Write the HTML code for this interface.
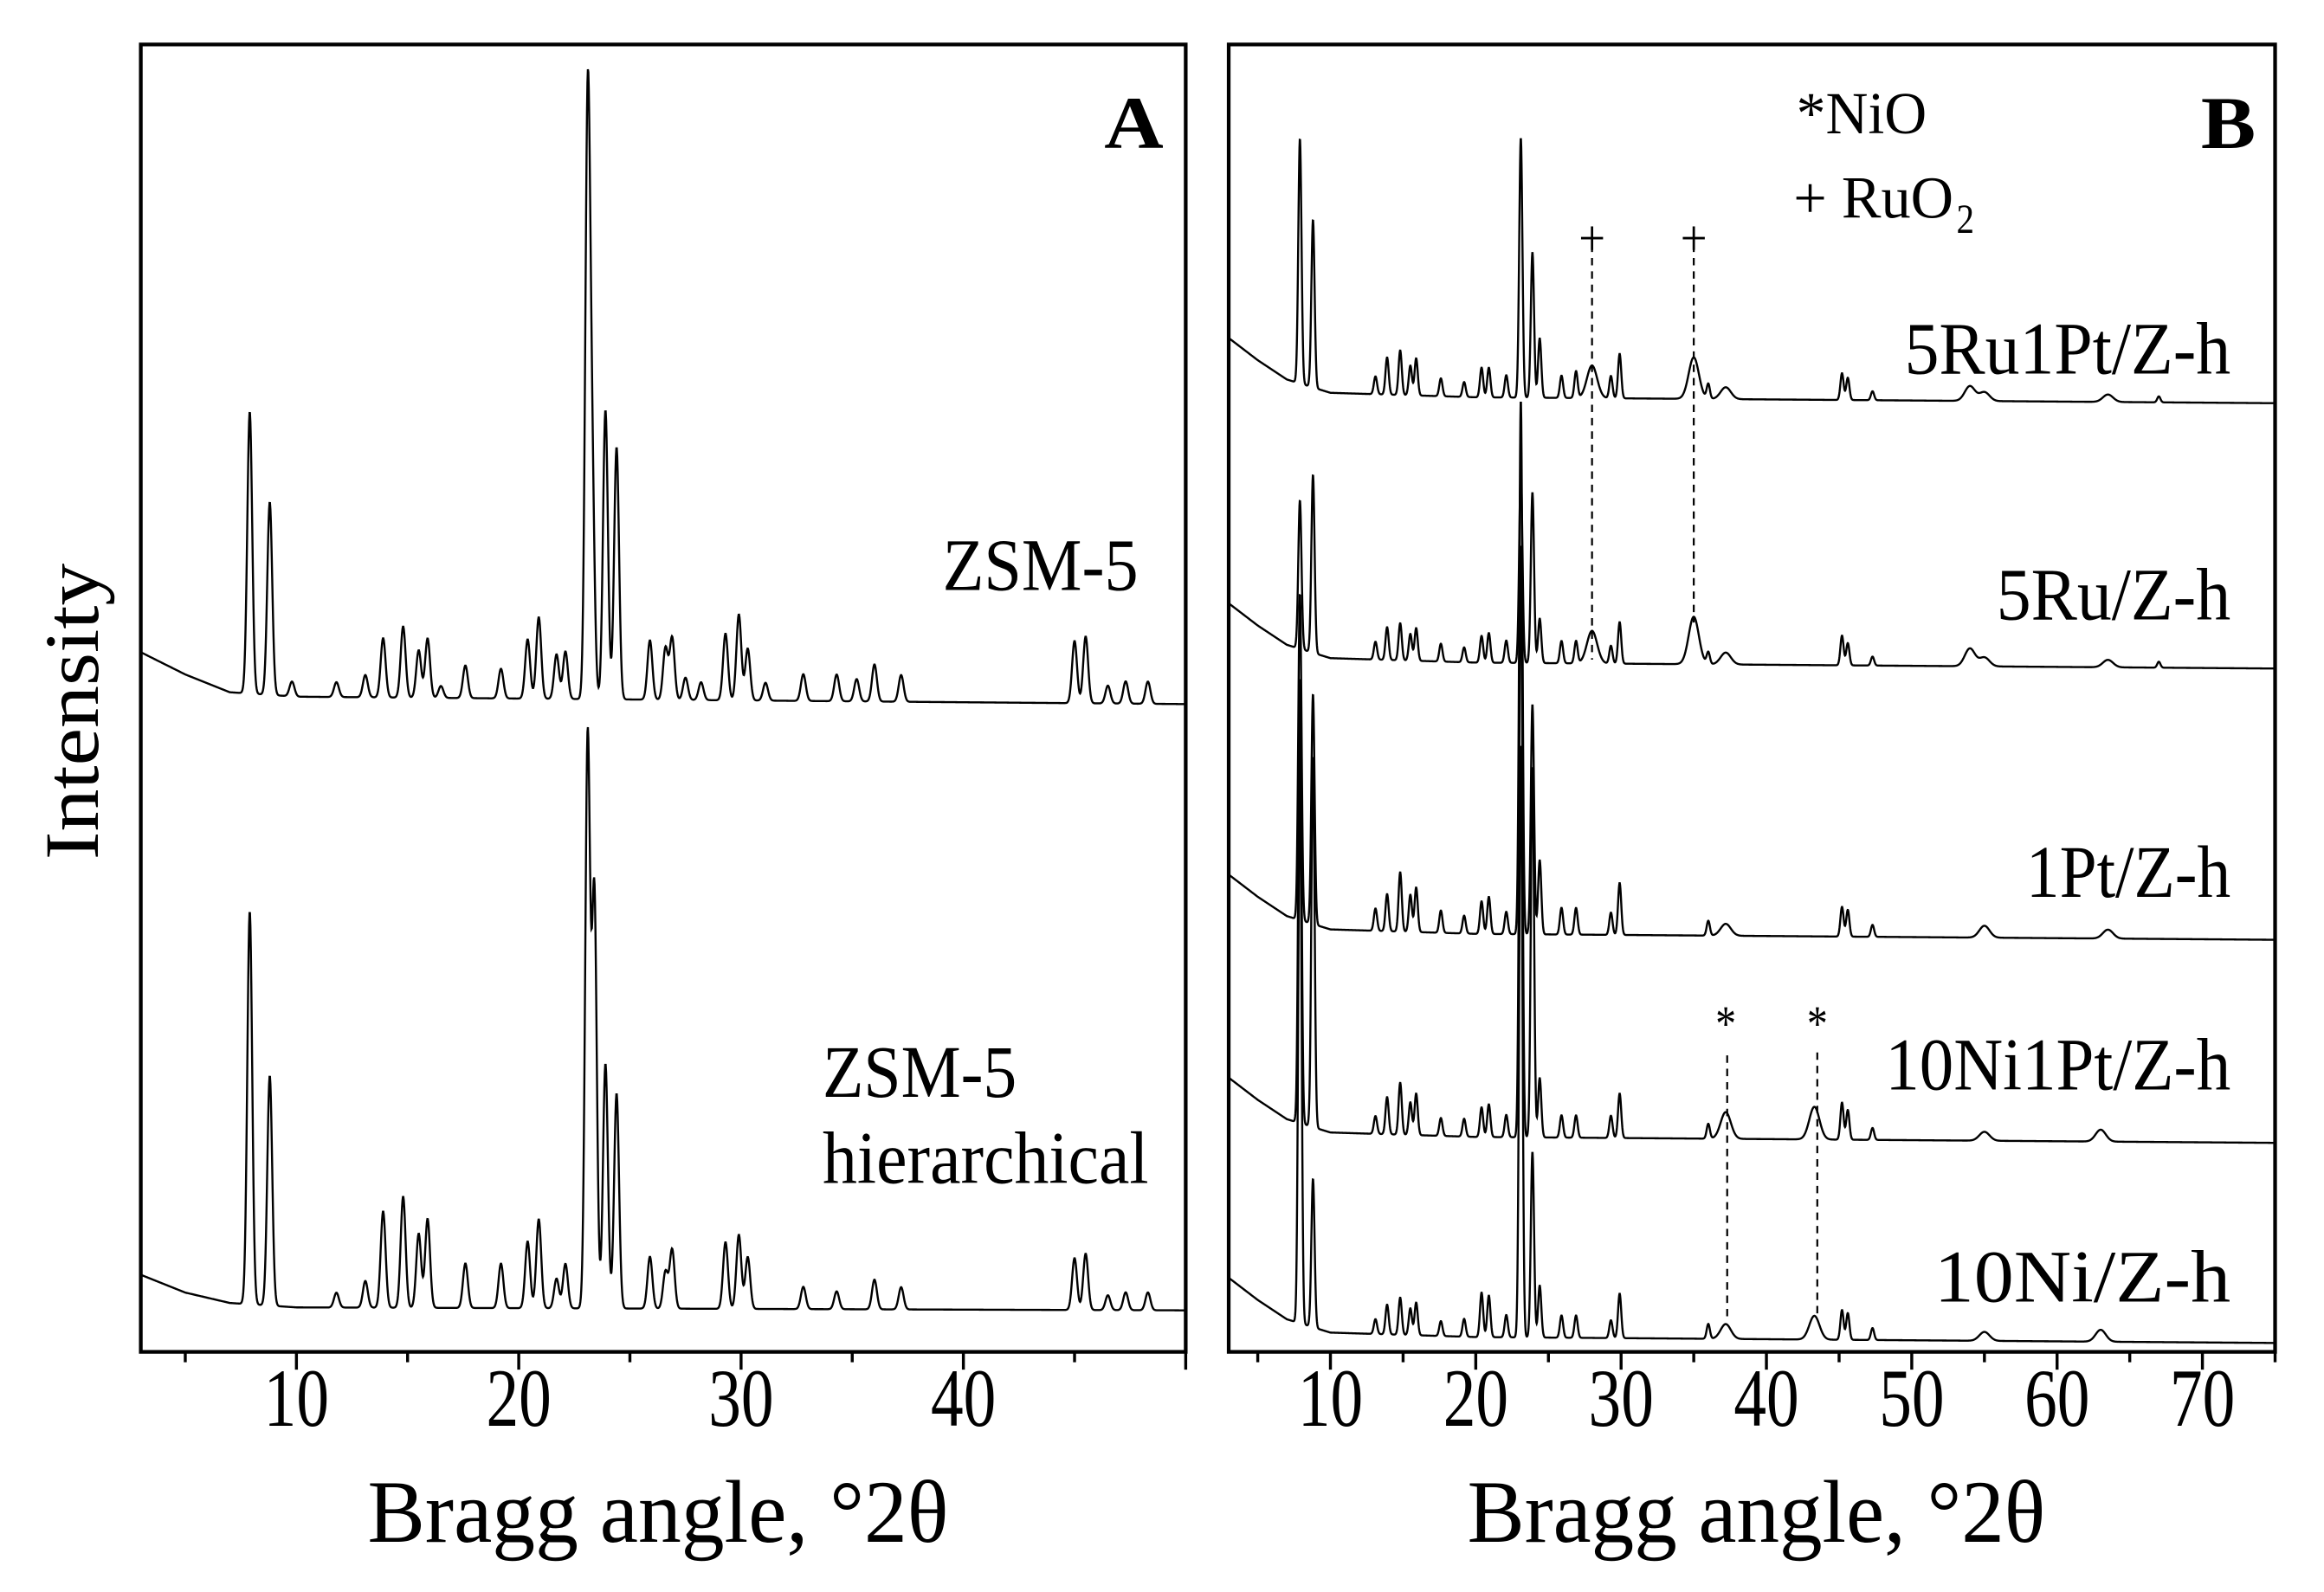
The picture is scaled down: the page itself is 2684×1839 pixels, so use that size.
<!DOCTYPE html>
<html><head><meta charset="utf-8"><style>html,body{margin:0;padding:0;background:#fff}svg{display:block}</style></head>
<body>
<svg id="chart" width="2684" height="1839" viewBox="0 0 1568 1074" preserveAspectRatio="none" xmlns="http://www.w3.org/2000/svg" font-family="'Liberation Serif', serif">
<rect x="0" y="0" width="1568" height="1074" fill="#fff"/>
<g id="panelA"></g>
<g id="panelB"></g>
</svg>
<script>
// ---- Panel A data (peak positions in °2θ, intensities in a.u.) ----
const aTicks = [10, 20, 30, 40];
const zsmPos = [7.9, 8.8, 9.8, 11.8, 13.1, 13.9, 14.8, 15.5, 15.9, 16.5, 17.6, 19.2, 20.4, 20.9, 21.7, 22.1, 23.1, 23.3, 23.9, 24.4, 25.9, 26.6, 26.9, 27.5, 28.2, 29.3, 29.9, 30.3, 31.1, 32.8, 34.3, 35.2, 36.0, 37.2, 45.0, 45.5, 46.5, 47.3, 48.3];
const zsmInt = [190, 130, 10, 10, 15, 40, 48, 32, 40, 8, 22, 20, 40, 55, 30, 32, 395, 140, 195, 170, 40, 35, 42, 15, 12, 45, 58, 35, 12, 18, 18, 15, 25, 18, 42, 45, 12, 15, 15];
const hierPos = [7.9, 8.8, 11.8, 13.1, 13.9, 14.8, 15.5, 15.9, 17.6, 19.2, 20.4, 20.9, 21.7, 22.1, 23.1, 23.4, 23.9, 24.4, 25.9, 26.6, 26.9, 29.3, 29.9, 30.3, 32.8, 34.3, 36.0, 37.2, 45.0, 45.5, 46.5, 47.3, 48.3];
const hierInt = [265, 155, 10, 18, 65, 75, 50, 60, 30, 30, 45, 60, 20, 30, 385, 280, 165, 145, 35, 25, 40, 45, 50, 35, 15, 12, 20, 15, 35, 38, 10, 12, 12];
const zsmBgX = [3, 5, 7, 10, 50];
const zsmBgY = [30, 15, 3, 0, -5];
const hierBgX = [3, 5, 7, 10, 50];
const hierBgY = [22, 10, 3, 0, -2];

// ---- Panel B data ----
const bTicks = [10, 20, 30, 40, 50, 60, 70];
const ruptPos = [7.9, 8.8, 13.1, 13.9, 14.8, 15.5, 15.9, 17.6, 19.2, 20.4, 20.9, 22.1, 23.1, 23.9, 24.4, 25.9, 26.9, 28.0, 29.3, 29.9, 35.0, 36.0, 37.2, 45.2, 45.6, 47.3, 54.0, 55.0, 63.5, 67.0];
const ruptInt = [165, 113, 12, 25, 30, 20, 25, 12, 10, 20, 20, 15, 175, 98, 40, 15, 18, 22, 15, 30, 28, 10, 8, 18, 15, 6, 10, 6, 5, 4];
const ruPos = [7.9, 8.8, 13.1, 13.9, 14.8, 15.5, 15.9, 17.6, 19.2, 20.4, 20.9, 22.1, 23.1, 23.9, 24.4, 25.9, 26.9, 28.0, 29.3, 29.9, 35.0, 36.0, 37.2, 45.2, 45.6, 47.3, 54.0, 55.0, 63.5, 67.0];
const ruInt = [100, 120, 12, 22, 25, 18, 22, 12, 10, 18, 20, 15, 130, 115, 30, 15, 15, 22, 12, 28, 32, 8, 8, 20, 15, 6, 12, 6, 5, 4];
const ptPos = [7.9, 8.8, 13.1, 13.9, 14.8, 15.5, 15.9, 17.6, 19.2, 20.4, 20.9, 22.1, 23.1, 23.9, 24.4, 25.9, 26.9, 29.3, 29.9, 36.0, 37.2, 45.2, 45.6, 47.3, 55.0, 63.5];
const ptInt = [220, 155, 15, 25, 40, 25, 30, 15, 12, 22, 25, 15, 360, 155, 50, 18, 18, 15, 35, 10, 8, 20, 18, 8, 8, 6];
const niptPos = [7.9, 8.8, 13.1, 13.9, 14.8, 15.5, 15.9, 17.6, 19.2, 20.4, 20.9, 22.1, 23.1, 23.9, 24.4, 25.9, 26.9, 29.3, 29.9, 36.0, 37.2, 43.3, 45.2, 45.6, 47.3, 55.0, 63.0];
const niptInt = [300, 250, 12, 25, 35, 22, 28, 12, 12, 20, 22, 15, 400, 250, 40, 15, 15, 15, 30, 10, 18, 22, 25, 20, 8, 6, 8];
const niPos = [7.9, 8.8, 13.1, 13.9, 14.8, 15.5, 15.9, 17.6, 19.2, 20.4, 20.9, 22.1, 23.1, 23.9, 24.4, 25.9, 26.9, 29.3, 29.9, 36.0, 37.2, 43.3, 45.2, 45.6, 47.3, 55.0, 63.0];
const niInt = [380, 100, 10, 20, 25, 18, 22, 10, 12, 30, 28, 15, 400, 125, 35, 15, 15, 12, 30, 10, 10, 16, 20, 18, 8, 6, 8];
const bBgX = [3, 5, 7, 10, 20, 75];
const bBgY = [40, 25, 12, 3, 0, -4];
// broad peaks in panel B (NiO, RuO2, high-angle humps)
const broadPos = [28.0, 35.0, 37.2, 43.3, 54.0, 55.0, 63.0, 63.5];

const SVGNS = "http://www.w3.org/2000/svg";
function mk(tag, attrs, parent) {
  const e = document.createElementNS(SVGNS, tag);
  for (const k in attrs) e.setAttribute(k, attrs[k]);
  parent.appendChild(e);
  return e;
}
function interp(xs, ys, x) {
  if (x <= xs[0]) return ys[0];
  for (let i = 1; i < xs.length; i++) if (x <= xs[i]) { const t = (x - xs[i-1]) / (xs[i] - xs[i-1]); return ys[i-1] + t * (ys[i] - ys[i-1]); }
  return ys[ys.length - 1];
}
function profile(x, pos, ints, bgx, bgy, useBroad) {
  let v = interp(bgx, bgy, x);
  for (let i = 0; i < pos.length; i++) {
    const w = (useBroad && broadPos.includes(pos[i])) ? 0.35 : 0.11;
    const d = (x - pos[i]) / w;
    v += ints[i] * Math.exp(-0.5 * d * d);
  }
  return v;
}
function panel(g, L, R, T, B, xmin, xmax, ticks, title, titleX, titleW) {
  const sx = v => L + (v - xmin) / (xmax - xmin) * (R - L);
  mk('rect', {x: L, y: T, width: R - L, height: B - T, fill: 'none', stroke: '#000', 'stroke-width': 2.5}, g);
  for (let v = 5; v <= xmax; v += 5) {
    if (v < xmin) continue;
    const major = v % 10 === 0;
    const t = mk('line', {x1: sx(v), x2: sx(v), y1: B, y2: B + (major ? 12 : 7), stroke: '#000', 'stroke-width': 2}, g);
    
    
  }
  ticks.forEach(v => {
    const t = mk('text', {x: sx(v), y: 962, 'font-size': 56, 'text-anchor': 'middle', textLength: 44, lengthAdjust: 'spacingAndGlyphs'}, g);
    t.textContent = v;
    
    
  });
  const tt = mk('text', {x: titleX, y: 1040, 'font-size': 60, textLength: titleW, lengthAdjust: 'spacingAndGlyphs'}, g);
  tt.textContent = title;
  
  
  return sx;
}
function curve(g, sx, xmin, xmax, base, pos, ints, bgx, bgy, name, useBroad) {
  let d = '';
  for (let x = xmin; x <= xmax + 1e-9; x += 0.02) {
    const y = base - profile(x, pos, ints, bgx, bgy, useBroad);
    d += (d ? 'L' : 'M') + sx(x).toFixed(2) + ' ' + y.toFixed(2);
  }
  const p = mk('path', {d: d, fill: 'none', stroke: '#000', 'stroke-width': 1.4}, g);
  
  
}
function label(g, x, y, txt, size, w, name, anchor, bold) {
  const t = mk('text', {x: x, y: y, 'font-size': size, textLength: w, lengthAdjust: 'spacingAndGlyphs', 'text-anchor': anchor || 'start', 'font-weight': bold ? 'bold' : 'normal'}, g);
  t.textContent = txt;
  
  
  return t;
}

const gA = document.getElementById('panelA');
const sxA = panel(gA, 95, 800, 30, 912, 3, 50, aTicks, 'Bragg angle, °2θ', 248, 392);
curve(gA, sxA, 3.05, 49.95, 470, zsmPos, zsmInt, zsmBgX, zsmBgY, 'zsm5-curve', false);
curve(gA, sxA, 3.05, 49.95, 882, hierPos, hierInt, hierBgX, hierBgY, 'zsm5-hierarchical-curve', false);
label(gA, 636, 398, 'ZSM-5', 50, 132, 'zsm5-label');
label(gA, 555, 740, 'ZSM-5', 50, 131, 'zsm5-hier-label');
label(gA, 555, 798, 'hierarchical', 50, 220, 'hierarchical-label');
label(gA, 745, 100, 'A', 50, 40, 'panel-a-letter', 'start', true);
const yt = mk('text', {x: 0, y: 0, 'font-size': 52, 'text-anchor': 'middle', transform: 'translate(66 480) rotate(-90)', textLength: 200, lengthAdjust: 'spacingAndGlyphs'}, gA);
yt.textContent = 'Intensity';



const gB = document.getElementById('panelB');
const sxB = panel(gB, 829, 1535, 30, 912, 3, 75, bTicks, 'Bragg angle, °2θ', 990, 390);
curve(gB, sxB, 3.05, 74.95, 268, ruptPos, ruptInt, bBgX, bBgY, '5ru1pt-curve', true);
curve(gB, sxB, 3.05, 74.95, 447, ruPos, ruInt, bBgX, bBgY, '5ru-curve', true);
curve(gB, sxB, 3.05, 74.95, 630, ptPos, ptInt, bBgX, bBgY, '1pt-curve', true);
curve(gB, sxB, 3.05, 74.95, 767, niptPos, niptInt, bBgX, bBgY, '10ni1pt-curve', true);
curve(gB, sxB, 3.05, 74.95, 902, niPos, niInt, bBgX, bBgY, '10ni-curve', true);
[[28.0, 165, 445], [35.0, 165, 420], [37.3, 712, 890], [43.5, 710, 890]].forEach(r => {
  const l = mk('line', {x1: sxB(r[0]), x2: sxB(r[0]), y1: r[1], y2: r[2], stroke: '#000', 'stroke-width': 1.3, 'stroke-dasharray': '5 4'}, gB);
  
  
});
label(gB, sxB(28.0), 172, '+', 34, 18, 'ruo2-marker', 'middle');
label(gB, sxB(35.0), 172, '+', 34, 18, 'ruo2-marker', 'middle');
label(gB, sxB(37.2), 702, '*', 34, 14, 'nio-marker', 'middle');
label(gB, sxB(43.5), 702, '*', 34, 14, 'nio-marker', 'middle');
label(gB, 1212, 90, '*NiO', 40, 88, 'nio-legend');
label(gB, 1210, 147, '+ RuO', 40, 108, 'ruo2-legend');
label(gB, 1320, 157, '2', 28, 12, 'ruo2-subscript');
label(gB, 1505, 252, '5Ru1Pt/Z-h', 50, 220, '5ru1pt-label', 'end');
label(gB, 1505, 418, '5Ru/Z-h', 50, 158, '5ru-label', 'end');
label(gB, 1505, 605, '1Pt/Z-h', 50, 138, '1pt-label', 'end');
label(gB, 1505, 735, '10Ni1Pt/Z-h', 50, 233, '10ni1pt-label', 'end');
label(gB, 1505, 878, '10Ni/Z-h', 50, 200, '10ni-label', 'end');
label(gB, 1485, 100, 'B', 50, 37, 'panel-b-letter', 'start', true);
</script>
</body></html>
